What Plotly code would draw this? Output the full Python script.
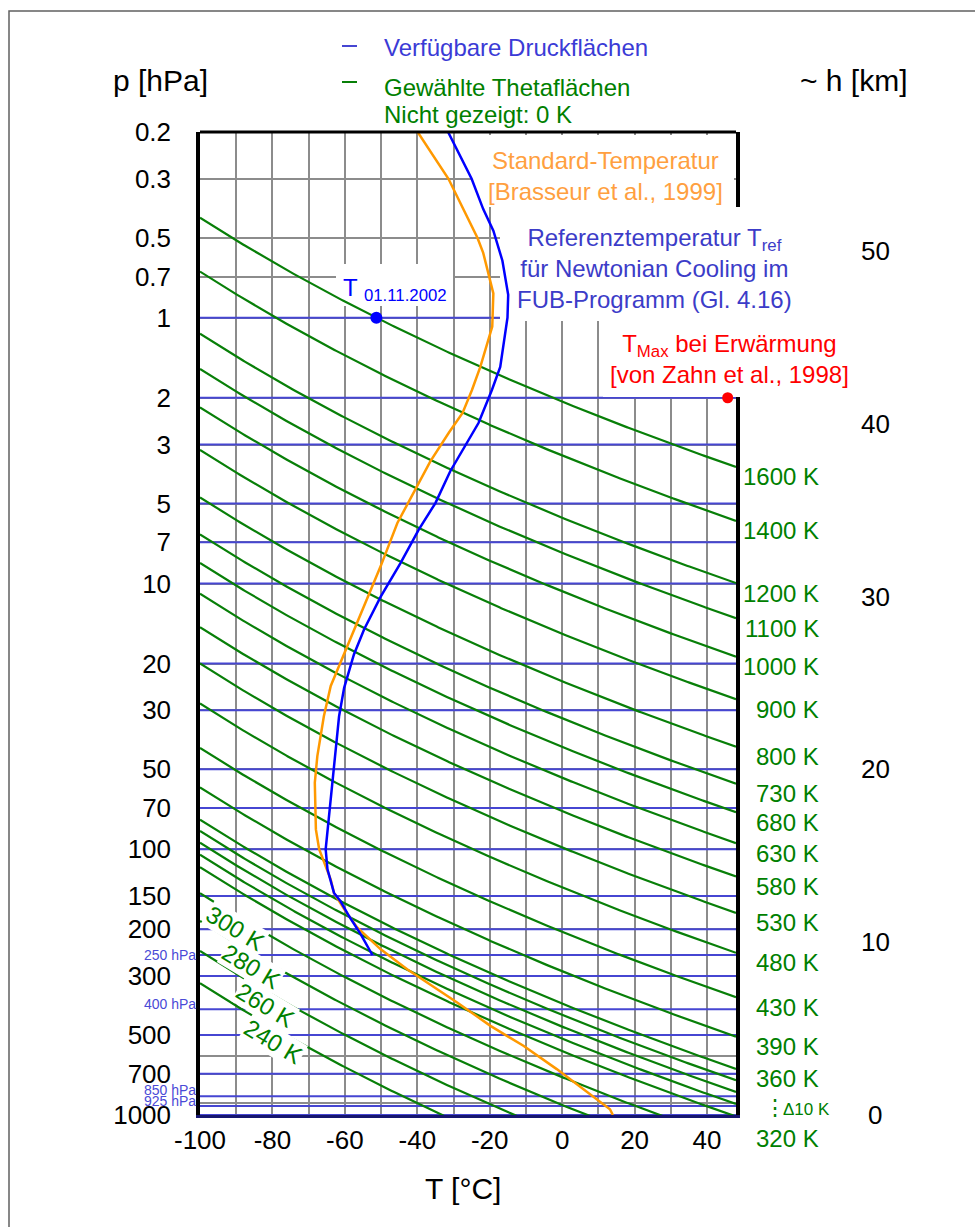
import numpy as np
import plotly.graph_objects as go

FONT = "Liberation Sans, Arial, Helvetica, sans-serif"

# ---------------- data ----------------
T_RANGE = [-100, 48]          # deg C, x axis range
P_BOTTOM, P_TOP = 1000, 0.2   # hPa, y axis range (log)
KAPPA = 0.286                 # R/cp for potential temperature
H_SCALE = 6.68                # km, scale height used for the ~h axis

theta_levels = [1600, 1400, 1200, 1100, 1000, 900, 800, 730, 680, 630, 580, 530,
                480, 430, 390, 360, 350, 340, 330, 320, 300, 280, 260, 240]
theta_right_labels = [1600, 1400, 1200, 1100, 1000, 900, 800, 730, 680, 630, 580,
                      530, 480, 430, 390, 360]
theta_left_labels = [300, 280, 260, 240]
theta_left_T = [-90.1, -85.8, -81.8, -79.8]
theta_left_p = [198, 276, 386, 528]
theta_lowest = 320

pressure_levels = [1, 2, 3, 5, 7, 10, 20, 30, 50, 70, 100, 150, 200, 250, 300,
                   400, 500, 700, 850, 925, 1000]
p_tick_vals = [0.2, 0.3, 0.5, 0.7, 1, 2, 3, 5, 7, 10, 20, 30, 50, 70, 100, 150,
               200, 300, 500, 700, 1000]
p_tick_text = ["0.2", "0.3", "0.5", "0.7", "1", "2", "3", "5", "7", "10", "20",
               "30", "50", "70", "100", "150", "200", "300", "500", "700", "1000"]
p_grid_extra = [600, 900]
p_small_vals = [250, 400, 850, 925]
p_small_text = ["250 hPa", "400 hPa", "850 hPa", "925 hPa"]
p_small_shift = [0, 5, 6, 5]

t_grid_vals = [-100, -90, -80, -70, -60, -50, -40, -30, -20, -10, 0, 10, 20, 30, 40]
t_tick_vals = [-100, -80, -60, -40, -20, 0, 20, 40]
t_tick_text = ["-100", "-80", "-60", "-40", "-20", "0", "20", "40"]
h_ticks = [0, 10, 20, 30, 40, 50]

# Standard temperature [Brasseur et al., 1999]
std_p = [0.2, 0.3, 0.5, 0.57, 0.81, 1.08, 1.53, 1.87, 2.28, 2.71, 3.47, 4.56, 5.92,
         8.6, 14.9, 19.9, 24.3, 31.6, 44.6, 56.2, 84.2, 100, 112, 130, 146, 168,
         197, 238, 283, 377, 462, 549, 672, 799, 951, 1000]
std_T = [-39.9, -31.4, -23.4, -21.8, -19.0, -19.3, -22.6, -24.9, -27.5, -31.3, -36.4,
         -41.0, -45.5, -50.1, -57.5, -61.2, -63.9, -65.8, -67.6, -68.3, -68.0, -67.1,
         -65.8, -63.9, -63.0, -60.2, -56.6, -50.1, -42.8, -29.0, -19.8, -10.7, -1.5,
         5.9, 13.2, 14.0]

# Reference temperature T_ref (Newtonian cooling)
tref_p = [0.2, 0.3, 0.39, 0.47, 0.61, 0.82, 1.0, 1.53, 1.87, 2.49, 3.78, 4.98, 6.27,
          8.36, 11.2, 14.9, 18.5, 24.7, 31.6, 54.6, 100, 119, 146, 157, 178, 209, 250]
tref_T = [-31.5, -25.0, -21.8, -19.0, -16.5, -14.9, -15.1, -17.1, -19.4, -23.1, -30.9,
          -35.0, -39.6, -44.6, -50.1, -54.7, -57.5, -60.2, -61.6, -63.4, -65.3, -64.8,
          -63.0, -61.2, -58.9, -55.6, -52.4]

obs_T, obs_p = [-51.3], [1.0]      # T 01.11.2002
tmax_T, tmax_p = [45.7], [2.0]     # T_Max bei Erwaermung

# ---------------- colours ----------------
GREEN = "#087f08"
BLUE_P = "#4646d2"
ORANGE = "#ff9900"
BLUE = "#0000ff"
GRID = "#8c8c8c"

# ---------------- pixel helpers (layout only) ----------------
W, H = 975, 1227
L, R, TOP, BOT = 200, 736, 132, 1115


def px(x):
    return (x - L) / (R - L)


def py(y):
    return (BOT - y) / (BOT - TOP)


def dx(x):
    return T_RANGE[0] + (x - L) / (R - L) * (T_RANGE[1] - T_RANGE[0])


def dp(y):
    lb, lt = np.log10(P_BOTTOM), np.log10(P_TOP)
    return 10 ** (lb - (BOT - y) / (BOT - TOP) * (lb - lt))


fig = go.Figure()

# isentropes
T_line = np.linspace(T_RANGE[0], T_RANGE[1], 300)
xs, ys = [], []
for th in theta_levels:
    p = 1000.0 * ((T_line + 273.15) / th) ** (1.0 / KAPPA)
    xs += list(T_line) + [None]
    ys += list(p) + [None]
fig.add_trace(go.Scatter(x=xs, y=ys, mode="lines", line=dict(color=GREEN, width=2.2),
                         hoverinfo="skip"))

fig.add_trace(go.Scatter(x=std_T, y=std_p, mode="lines",
                         line=dict(color=ORANGE, width=2.5)))
fig.add_trace(go.Scatter(x=tref_T, y=tref_p, mode="lines",
                         line=dict(color=BLUE, width=2.5)))
fig.add_trace(go.Scatter(x=obs_T, y=obs_p, mode="markers",
                         marker=dict(color=BLUE, size=12)))
fig.add_trace(go.Scatter(x=tmax_T, y=tmax_p, mode="markers", cliponaxis=False,
                         marker=dict(color="#ff0000", size=11)))

shapes = []
# available pressure levels
for p in pressure_levels:
    shapes.append(dict(type="line", xref="x", yref="y", layer="between",
                       x0=T_RANGE[0], x1=T_RANGE[1], y0=p, y1=p,
                       line=dict(color=BLUE_P, width=2)))
# white boxes behind the text blocks
for (x0, y0, x1, y1) in [(471, 135, 734, 207), (500, 207, 760, 321),
                         (603, 321, 760, 397), (336, 264, 453, 306)]:
    shapes.append(dict(type="rect", xref="x", yref="y", layer="between",
                       x0=dx(x0), x1=dx(x1), y0=dp(y0), y1=dp(y1),
                       fillcolor="white", line=dict(width=0)))
# top spine
shapes.append(dict(type="line", xref="paper", yref="paper", layer="above",
                   x0=0, x1=1, y0=1, y1=1, line=dict(color="black", width=3)))
# hide right spine behind the text boxes
shapes.append(dict(type="rect", xref="paper", yref="paper", layer="above",
                   x0=px(734.3), x1=px(850), y0=py(397), y1=py(207),
                   fillcolor="white", line=dict(width=0)))
# outer frame
shapes.append(dict(type="rect", xref="paper", yref="paper", layer="above",
                   x0=px(9), x1=px(1000), y0=py(1260), y1=py(11),
                   line=dict(color="#606060", width=1.5), fillcolor="rgba(0,0,0,0)"))
# legend dashes
shapes.append(dict(type="line", xref="paper", yref="paper", layer="above",
                   x0=px(342), x1=px(357), y0=py(46), y1=py(46),
                   line=dict(color=BLUE_P, width=2)))
shapes.append(dict(type="line", xref="paper", yref="paper", layer="above",
                   x0=px(342), x1=px(357), y0=py(82), y1=py(82),
                   line=dict(color=GREEN, width=2)))


def ann(text, x, y, size=24, color="black", xanchor="center", yanchor="middle", **kw):
    d = dict(text=text, x=px(x), y=py(y), xref="paper", yref="paper", showarrow=False,
             font=dict(size=size, color=color, family=FONT), xanchor=xanchor,
             yanchor=yanchor)
    d.update(kw)
    return d


annotations = [
    ann("p [hPa]", 160, 80, size=30),
    ann("~ h [km]", 854, 80, size=30),
    ann("T [°C]", 463, 1188, size=30),
    ann("Verfügbare Druckflächen", 382, 47, color="#3b3bd6", xanchor="left"),
    ann("Gewählte Thetaflächen", 382, 87, color="#008000", xanchor="left"),
    ann("Nicht gezeigt: 0 K", 382, 115, color="#008000", xanchor="left"),
    ann("Standard-Temperatur<br>[Brasseur et al., 1999]", 605, 176, color="#ff9f40"),
    ann("Referenztemperatur T<sub>ref</sub><br>für Newtonian Cooling im<br>FUB-Programm (Gl. 4.16)",
        654, 268, color="#3c3cc8"),
    ann("T<sub>Max</sub> bei Erwärmung<br>[von Zahn et al., 1998]", 729, 359,
        color="#ff0000"),
    ann("T <sub>01.11.2002</sub>", 341, 289, color=BLUE, xanchor="left"),
    ann("⋮", 775, 1107, size=22, color="#008000"),
    ann("Δ10 K", 781, 1109, size=17, color="#008000", xanchor="left"),
]

# right-hand theta labels at the end of each isentrope
for th in theta_right_labels:
    p_end = 1000.0 * ((T_RANGE[1] + 273.15) / th) ** (1.0 / KAPPA)
    annotations.append(dict(text=f"{th} K", x=px(821), xref="paper", y=np.log10(p_end),
                            yref="y", showarrow=False, xanchor="right", yanchor="middle",
                            yshift=-10, font=dict(size=24, color="#008000", family=FONT)))
annotations.append(dict(text=f"{theta_lowest} K", x=px(821), xref="paper",
                        y=np.log10(P_BOTTOM), yref="y", showarrow=False, xanchor="right",
                        yanchor="middle", yshift=-23,
                        font=dict(size=24, color="#008000", family=FONT)))
# left rotated theta labels
for th, tt, pp in zip(theta_left_labels, theta_left_T, theta_left_p):
    annotations.append(dict(text=f"{th} K", x=tt, y=np.log10(pp), xref="x", yref="y",
                            showarrow=False, textangle=31, bgcolor="white", borderpad=0,
                            font=dict(size=24, color="#008000", family=FONT)))
# small pressure labels
for pv, txt, sh in zip(p_small_vals, p_small_text, p_small_shift):
    annotations.append(dict(text=txt, x=px(198), xref="paper", y=np.log10(pv), yref="y",
                            showarrow=False, xanchor="right", yanchor="middle", yshift=sh,
                            font=dict(size=14, color="#4a4ad6", family=FONT)))
# ~h axis labels
for h in h_ticks:
    annotations.append(dict(text=str(h), x=px(875), xref="paper",
                            y=np.log10(P_BOTTOM * np.exp(-h / H_SCALE)), yref="y",
                            showarrow=False, xanchor="center", yanchor="middle",
                            font=dict(size=26, color="black", family=FONT)))

y_vals = p_tick_vals + p_grid_extra
y_text = p_tick_text + [""] * len(p_grid_extra)
x_text = [t_tick_text[t_tick_vals.index(v)] if v in t_tick_vals else "" for v in t_grid_vals]

fig.update_layout(
    width=W, height=H,
    margin=dict(l=L, r=W - R, t=TOP, b=H - BOT, pad=0),
    paper_bgcolor="white", plot_bgcolor="white",
    showlegend=False,
    font=dict(family=FONT, color="black"),
    xaxis=dict(range=T_RANGE, tickmode="array", tickvals=t_grid_vals, ticktext=x_text,
               showgrid=True, gridcolor=GRID, gridwidth=1.5, zeroline=False,
               showline=True, linecolor="#16166e", linewidth=3, ticks="",
               tickfont=dict(size=26, color="black"), ticklabelstandoff=0),
    yaxis=dict(type="log", range=[np.log10(P_BOTTOM), np.log10(P_TOP)], tickmode="array",
               tickvals=y_vals, ticktext=y_text, showgrid=True, gridcolor=GRID,
               gridwidth=1.5, zeroline=False, showline=True, linecolor="black",
               linewidth=3.5, mirror=True, ticks="",
               tickfont=dict(size=26, color="black"), ticklabelstandoff=20),
    shapes=shapes,
    annotations=annotations,
)

fig.write_html("out.html", config={"displayModeBar": False},
               post_script="document.body.style.margin='0px';document.body.style.overflow='hidden';")
